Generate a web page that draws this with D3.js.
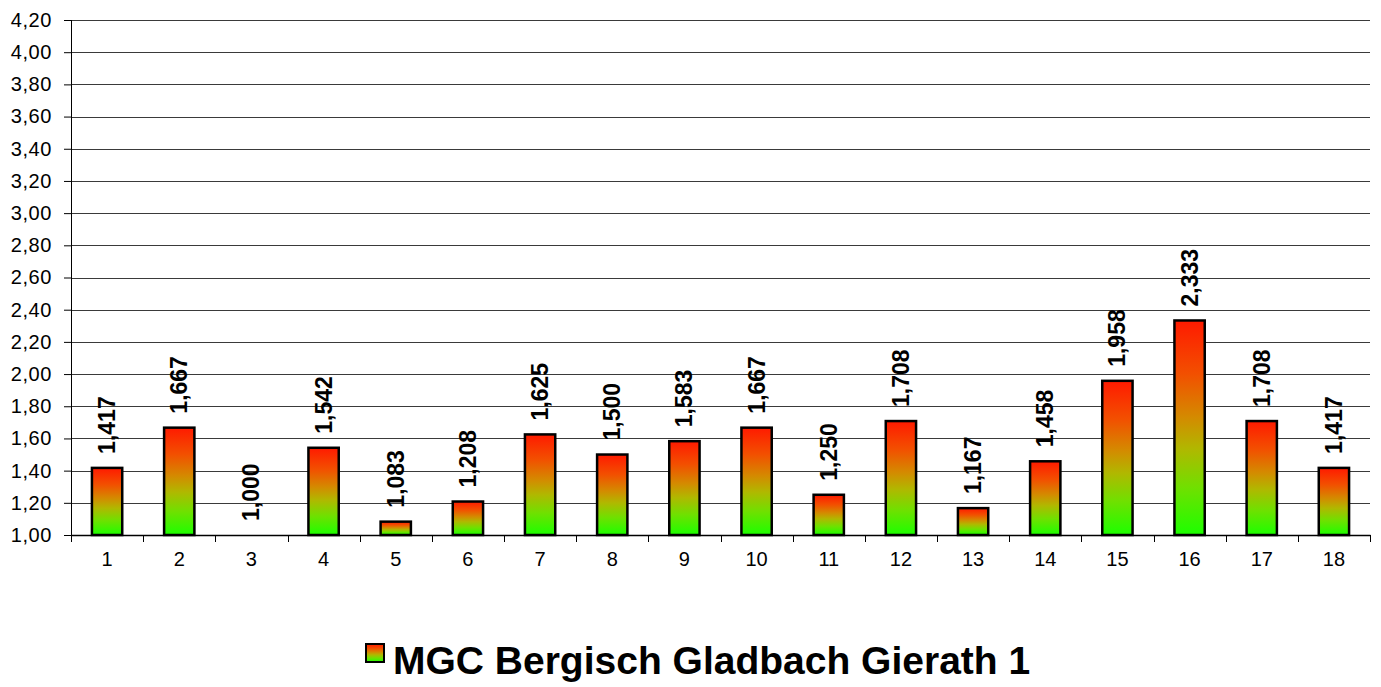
<!DOCTYPE html>
<html>
<head>
<meta charset="utf-8">
<script src="https://cdn.jsdelivr.net/npm/d3@7"></script>
<style>
  body { margin: 0; background: #fff; }
  text { font-family: "Liberation Sans", Arial, sans-serif; }
</style>
</head>
<body>
<div id="chart"></div>
<script>
// chart data
const holes = ["1","2","3","4","5","6","7","8","9","10","11","12","13","14","15","16","17","18"];
const values = [1.417, 1.667, 1.000, 1.542, 1.083, 1.208, 1.625, 1.500, 1.583, 1.667, 1.250, 1.708, 1.167, 1.458, 1.958, 2.333, 1.708, 1.417];
const yTicks = [1.0, 1.2, 1.4, 1.6, 1.8, 2.0, 2.2, 2.4, 2.6, 2.8, 3.0, 3.2, 3.4, 3.6, 3.8, 4.0, 4.2];
const seriesName = "MGC Bergisch Gladbach Gierath 1";

const W = 1381, H = 687;
const margin = { top: 20, right: 11, bottom: 152, left: 71 };
const width = W - margin.left - margin.right;
const height = H - margin.top - margin.bottom;

const svg = d3.select("#chart").append("svg")
    .attr("width", W)
    .attr("height", H);

// gradient red (top) -> green (bottom), per bar
const defs = svg.append("defs");
const grad = defs.append("linearGradient")
    .attr("id", "barGrad")
    .attr("x1", 0).attr("y1", 0).attr("x2", 0).attr("y2", 1);
[[0, "#ff1a00"], [0.25, "#f25000"], [0.45, "#d48a00"], [0.6, "#b0b800"], [0.78, "#70e000"], [1, "#1cff00"]]
    .forEach(s => grad.append("stop").attr("offset", s[0]).attr("stop-color", s[1]));

const g = svg.append("g")
    .attr("transform", `translate(${margin.left},${margin.top})`);

const x = d3.scaleBand()
    .domain(holes)
    .range([0, width])
    .paddingInner(0.58)
    .paddingOuter(0.29);

const y = d3.scaleLinear()
    .domain([1, 4.2])
    .range([height, 0]);

const comma = f => v => d3.format(f)(v).replace(".", ",");

// gridlines
g.append("g")
    .selectAll("line")
    .data(yTicks.slice(1))
    .join("line")
    .attr("x1", 0).attr("x2", width)
    .attr("y1", d => Math.round(y(d)) + 0.5)
    .attr("y2", d => Math.round(y(d)) + 0.5)
    .attr("stroke", "#3a3a3a")
    .attr("stroke-width", 1);

// y axis
const yAxis = g.append("g")
    .call(d3.axisLeft(y).tickValues(yTicks).tickFormat(comma(".2f")).tickSize(7).tickPadding(12));
yAxis.select(".domain").attr("stroke", "#000").attr("d", `M0.5,${height}V0`);
yAxis.selectAll("line").attr("stroke", "#000");
yAxis.selectAll("text")
    .style("font-size", "20px")
    .style("letter-spacing", "0.6px")
    .attr("fill", "#000");

// x axis
const xAxis = g.append("g")
    .attr("transform", `translate(0,${height})`)
    .call(d3.axisBottom(x).tickSize(0).tickPadding(17));
xAxis.select(".domain").attr("stroke", "#000").attr("stroke-width", 1.5);
xAxis.selectAll("text").style("font-size", "20px").attr("fill", "#000");
// tick marks between categories
xAxis.append("g")
    .selectAll("line")
    .data(d3.range(holes.length + 1))
    .join("line")
    .attr("x1", i => Math.round(i * x.step()) + 0.5)
    .attr("x2", i => Math.round(i * x.step()) + 0.5)
    .attr("y1", 0).attr("y2", 7)
    .attr("stroke", "#000");

// bars
g.selectAll(".bar")
    .data(values.map((v, i) => ({ hole: holes[i], v })).filter(d => d.v > 1))
    .join("rect")
    .attr("class", "bar")
    .attr("x", d => x(d.hole))
    .attr("y", d => y(d.v))
    .attr("width", x.bandwidth())
    .attr("height", d => height - y(d.v))
    .attr("fill", "url(#barGrad)")
    .attr("stroke", "#000")
    .attr("stroke-width", 2.5);

// value labels, rotated
g.selectAll(".val")
    .data(values.map((v, i) => ({ hole: holes[i], v })))
    .join("text")
    .attr("class", "val")
    .attr("transform", d => `translate(${x(d.hole) + x.bandwidth() / 2 + 8},${y(d.v) - 14}) rotate(-90)`)
    .attr("text-anchor", "start")
    .style("font-size", "23px")
    .style("font-weight", "bold")
    .text(d => comma(".3f")(d.v));

// legend
const legend = svg.append("g").attr("transform", `translate(0,${H - 13})`);
legend.append("rect")
    .attr("x", 366).attr("y", -30)
    .attr("width", 18).attr("height", 18)
    .attr("fill", "url(#barGrad)")
    .attr("stroke", "#000")
    .attr("stroke-width", 2);
legend.append("text")
    .attr("x", 393).attr("y", 0)
    .style("font-size", "39px")
    .style("font-weight", "bold")
    .text(seriesName);
</script>
</body>
</html>
